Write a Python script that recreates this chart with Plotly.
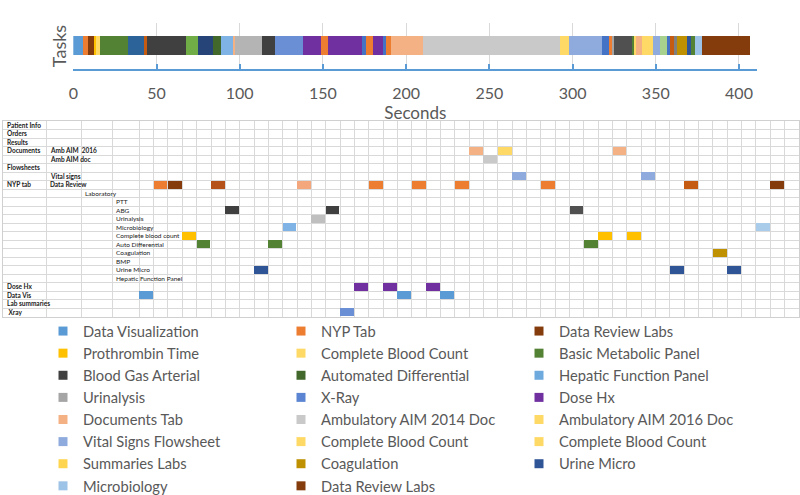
import plotly.graph_objects as go

W, H = 800, 495

# ---------------- data ----------------
time_ticks = [0, 50, 100, 150, 200, 250, 300, 350, 400]

# task timeline (seconds): boundaries of consecutive segments
segment_edges = [0, 6, 9.2, 12.8, 14, 16, 32.9, 42.9, 44.5, 67.7, 75.2, 84.2, 89.2,
                 96.2, 97.4, 113.8, 121.2, 137.9, 148.9, 153.1, 173.7, 175.9, 180.3,
                 186.3, 187.9, 190.9, 210.3, 292.9, 298.1, 317.9, 321.8, 323.7, 324.9,
                 335.9, 337.3, 338.5, 341.7, 348.7, 352.9, 356.9, 358.5, 360.9, 362.7,
                 368.7, 371.1, 373.7, 377.9, 407]
segment_colors = ["#5B9BD5", "#ED7D31", "#843C0C", "#FFC000", "#FFD966", "#548235",
                  "#2C6399", "#C55A11", "#404040", "#70AD47", "#264478", "#43682B",
                  "#7FB2E5", "#F4B183", "#B4B4B4", "#404040", "#6A8FD4", "#7030A0",
                  "#ED7D31", "#7030A0", "#4472C4", "#ED7D31", "#7030A0", "#4472C4",
                  "#ED7D31", "#F4B183", "#C9C9C9", "#FFD966", "#8FAADC", "#4472C4",
                  "#ED7D31", "#A5A5A5", "#505050", "#548235", "#FFD966", "#F4B183",
                  "#FFD966", "#8FAADC", "#A9D18E", "#4472C4", "#C55A11", "#7F7F7F",
                  "#BF9000", "#2F5597", "#548235", "#9DC3E6", "#843C0C"]

# screen-navigation table: (row, indent level, label)
table_labels = [
    (1, 0, "Patient Info"), (2, 0, "Orders"), (3, 0, "Results"),
    (4, 0, "Documents"), (4, 1, "Amb AIM  2016"), (5, 1, "Amb AIM doc"),
    (6, 0, "Flowsheets"), (7, 1, "Vital signs"), (8, 0, "NYP tab"),
    (8, 1, "Data Review"), (9, 2, "Laboratory"), (10, 3, "PTT"), (11, 3, "ABG"),
    (12, 3, "Urinalysis"), (13, 3, "Microbiology"), (14, 3, "Complete blood count"),
    (15, 3, "Auto Differential"), (16, 3, "Coagulation"), (17, 3, "BMP"),
    (18, 3, "Urine Micro"), (19, 3, "Hepatic Function Panel"), (20, 0, "Dose Hx"),
    (21, 0, "Data Vis"), (22, 0, "Lab summaries"), (23, 0, " Xray"),
]
n_rows = 23
n_time_cols = 46

# visited cells: row, time column, colour
cell_rows = [8, 8, 8, 8, 8, 8, 8, 8, 8, 8,
             4, 4, 4, 5, 7, 7, 11, 11, 11, 12,
             13, 13, 14, 14, 14, 15, 15, 15, 16,
             18, 18, 18, 20, 20, 20, 21, 21, 21, 23]
cell_cols = [1, 2, 5, 11, 16, 19, 22, 28, 38, 44,
             23, 25, 33, 24, 26, 35, 6, 13, 30, 12,
             10, 43, 3, 32, 34, 4, 9, 31, 40,
             8, 37, 41, 15, 17, 20, 0, 18, 21, 14]
cell_colors = ["#ED7D31", "#843C0C", "#B4521A", "#F4A77C", "#ED7D31", "#ED7D31", "#ED7D31",
               "#ED7D31", "#C55A11", "#843C0C",
               "#F4B183", "#FFD966", "#F4B183", "#C9C9C9", "#8FAADC", "#8FAADC",
               "#404040", "#404040", "#505050", "#BFBFBF",
               "#7FB2E5", "#A9CCEB", "#FFC000", "#FFC000", "#FFC000",
               "#548235", "#548235", "#548235", "#BF9000",
               "#2F5597", "#2F5597", "#2F5597", "#7030A0", "#7030A0", "#7030A0",
               "#5B9BD5", "#5B9BD5", "#5B9BD5", "#6A8FD4"]

legend_names = ["Data Visualization", "NYP Tab", "Data Review Labs",
                "Prothrombin Time", "Complete Blood Count", "Basic Metabolic Panel",
                "Blood Gas Arterial", "Automated Differential", "Hepatic Function Panel",
                "Urinalysis", "X-Ray", "Dose Hx",
                "Documents Tab", "Ambulatory AIM 2014 Doc", "Ambulatory AIM 2016 Doc",
                "Vital Signs Flowsheet", "Complete Blood Count", "Complete Blood Count",
                "Summaries Labs", "Coagulation", "Urine Micro",
                "Microbiology", "Data Review Labs"]
legend_colors = ["#5B9BD5", "#ED7D31", "#843C0C",
                 "#FFC000", "#FFD966", "#548235",
                 "#404040", "#43682B", "#6FAADF",
                 "#A5A5A5", "#5B85D2", "#7030A0",
                 "#F4B183", "#C9C9C9", "#FFD966",
                 "#8FAADC", "#FFD966", "#FFD966",
                 "#FFD54F", "#BF9000", "#2F5597",
                 "#9DC3E6", "#843C0C"]

# ---------------- figure ----------------
FONT = "Lato"
GREY = "#595959"

def fx(p):
    return p / W

def fy(p):
    return 1 - p / H

fig = go.Figure()

starts = segment_edges[:-1]
durations = [b - a for a, b in zip(segment_edges[:-1], segment_edges[1:])]
fig.add_trace(go.Bar(
    orientation="h", y=[0.514] * len(durations), x=durations, base=starts,
    width=0.42, marker=dict(color=segment_colors, line=dict(width=0)),
    showlegend=False, hoverinfo="skip", xaxis="x", yaxis="y"))

fig.add_trace(go.Bar(
    x=[c + 0.5 for c in cell_cols], y=[0.9] * len(cell_cols),
    base=[r - 0.95 for r in cell_rows], width=0.96,
    marker=dict(color=cell_colors, line=dict(width=0)),
    showlegend=False, hoverinfo="skip", xaxis="x2", yaxis="y2"))

for name, col in zip(legend_names, legend_colors):
    fig.add_trace(go.Scatter(
        x=[None], y=[None], mode="markers", name=name,
        marker=dict(symbol="square", size=9, color=col),
        xaxis="x", yaxis="y"))

# table column geometry in time-column units
col_w = (799 - 139.3) / n_time_cols
level_edges = [(p - 139.3) / col_w for p in (3.3, 46, 81.7, 112.7)]
level_text_x = [(p - 139.3) / col_w for p in (5, 48.3, 82.7, 114)]

annotations = []
for r, lvl, txt in table_labels:
    label = f"<b>{txt}</b>" if lvl <= 1 else txt
    annotations.append(dict(
        x=level_text_x[lvl], y=r - 0.5, xref="x2", yref="y2", text=label,
        showarrow=False, xanchor="left", yanchor="middle",
        font=dict(family=FONT, size=6.5, color="#222222")))

fig.update_layout(
    width=W, height=H, margin=dict(l=0, r=0, t=0, b=0, autoexpand=False),
    paper_bgcolor="white", plot_bgcolor="rgba(0,0,0,0)",
    barmode="overlay", bargap=0,
    showlegend=True,
    legend=dict(orientation="h", x=fx(43), xanchor="left", y=fy(315), yanchor="top",
                entrywidth=193, entrywidthmode="pixels",
                font=dict(family=FONT, size=14.7, color=GREY),
                itemsizing="trace", bgcolor="rgba(0,0,0,0)", tracegroupgap=0),
    xaxis=dict(domain=[fx(73.3), fx(757.3)], range=[0, 411], anchor="y",
               tickvals=time_ticks, ticktext=[str(t) for t in time_ticks],
               showgrid=True, gridcolor="#D9D9D9", gridwidth=1, zeroline=False,
               showline=True, linecolor="#5B9BD5", linewidth=1.5,
               ticks="inside", ticklen=5, tickwidth=1.5, tickcolor="#5B9BD5",
               ticklabelstandoff=9,
               tickfont=dict(family=FONT, size=16, color=GREY),
               title=dict(text="Seconds", standoff=0,
                          font=dict(family=FONT, size=17, color=GREY)),
               automargin=False, fixedrange=True),
    yaxis=dict(domain=[fy(69), fy(23)], range=[0, 1], anchor="x",
               showticklabels=False, showgrid=False, zeroline=False, ticks="",
               title=dict(text="Tasks", standoff=1,
                          font=dict(family=FONT, size=18, color=GREY)),
               automargin=False, fixedrange=True),
    xaxis2=dict(domain=[fx(3.3), fx(799)], range=[level_edges[0], n_time_cols],
                anchor="y2", tickvals=level_edges[1:] + list(range(0, n_time_cols + 1)),
                showticklabels=False, ticks="", showgrid=True, gridcolor="#D9D9D9",
                gridwidth=1, zeroline=False, showline=True, mirror=True,
                linecolor="#D0D0D0", linewidth=1, automargin=False, fixedrange=True),
    yaxis2=dict(domain=[fy(316.5), fy(121)], range=[n_rows, 0], anchor="x2",
                tickvals=list(range(0, n_rows + 1)), showticklabels=False, ticks="",
                showgrid=True, gridcolor="#D9D9D9", gridwidth=1, zeroline=False,
                showline=True, mirror=True, linecolor="#D0D0D0", linewidth=1,
                automargin=False, fixedrange=True),
    annotations=annotations,
)

fig.write_html("out.html", config={"displayModeBar": False},
               post_script="document.body.style.margin='0';")
